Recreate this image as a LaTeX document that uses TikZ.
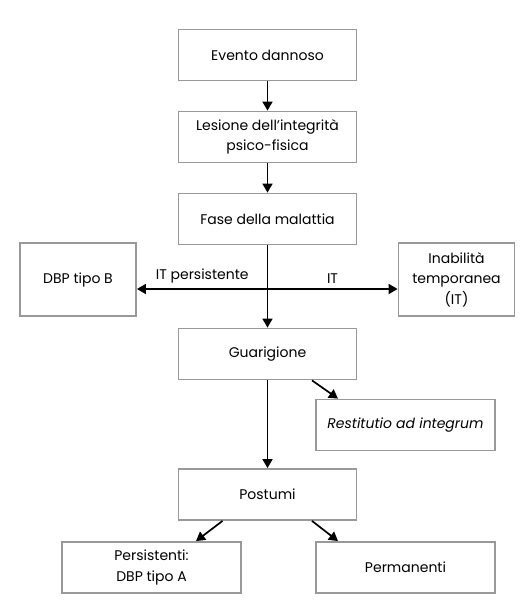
\documentclass[tikz,border=0pt]{standalone}
\usepackage{fontspec}
\setmainfont{Poppins}
\usetikzlibrary{arrows.meta,calc}
\begin{document}
\begin{tikzpicture}[x=1pt,y=-1pt,
  box/.style={draw=black!40,line width=1.8pt,fill=white,minimum width=178pt,minimum height=51pt,align=center,inner sep=2pt,font=\fontsize{14}{20.5}\selectfont},
  sbox/.style={box,minimum width=116pt,minimum height=73pt},
  arr/.style={line width=1.7pt,-{Triangle[length=9pt,width=10pt]}},
  lbl/.style={font=\fontsize{14}{15}\selectfont,inner sep=0pt}]
\useasboundingbox (0,0) rectangle (532,616);
\node[box] (ev) at (267.5,55) {Evento dannoso};
\node[box] (les) at (267.5,137) {Lesione dell’integrità\\psico-fisica};
\node[box] (fase) at (267.5,219) {Fase della malattia};
\node[sbox] (dbp) at (78,279.5) {DBP tipo B};
\node[sbox] (inab) at (456.5,279.5) {Inabilità\\temporanea\\(IT)};
\node[box] (gua) at (267.5,354) {Guarigione};
\node[box,minimum width=179pt] (rest) at (405.5,425) {\itshape Restitutio ad integrum};
\node[box] (post) at (267.5,494.5) {Postumi};
\node[box,minimum width=179pt] (pers) at (151.5,567.5) {Persistenti:\\DBP tipo A};
\node[box,minimum width=179pt] (perm) at (405.5,567.5) {Permanenti};
\coordinate (cross) at (267.5,289);
\draw[arr] (ev) -- (les);
\draw[arr] (les) -- (fase);
\draw[arr] (fase) -- (gua);
\draw[arr] (cross) -- (cross -| dbp.east) node[lbl,midway,above=5pt] {IT persistente};
\draw[arr] (cross) -- (cross -| inab.west) node[lbl,midway,above=5pt] {IT};
\draw[arr] (gua) -- (post);
\draw[arr] ($(gua.south)+(44.5,0)$) -- ($(rest.north)+(-67.5,0)$);
\draw[arr] ($(post.south)+(-45,0)$) -- ($(pers.north)+(44.5,0)$);
\draw[arr] ($(post.south)+(44.5,0)$) -- ($(perm.north)+(-67.5,0)$);
\end{tikzpicture}
\end{document}
